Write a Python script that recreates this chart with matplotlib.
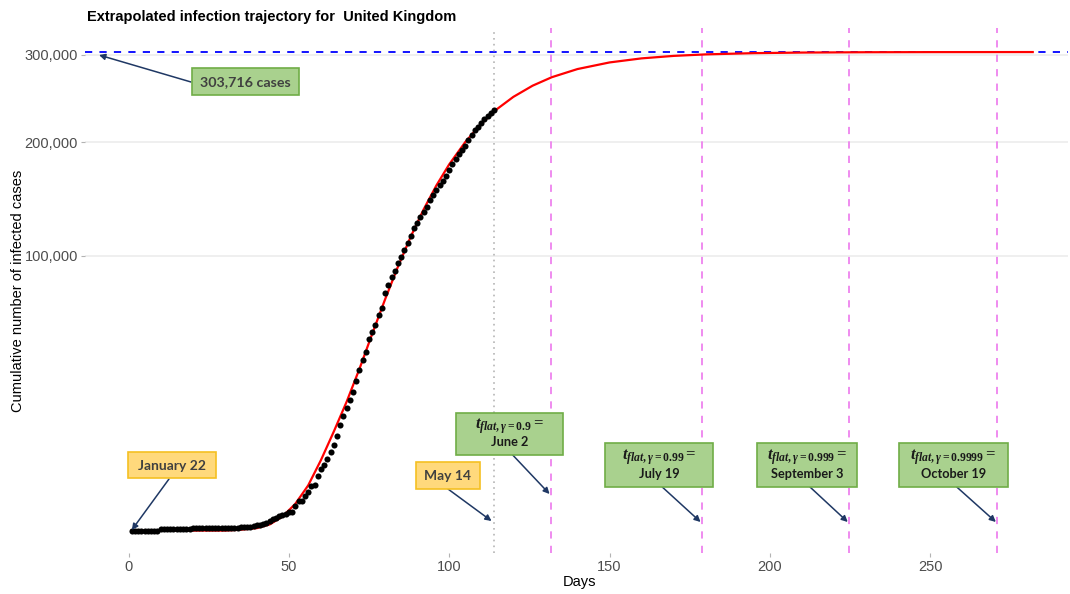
import matplotlib
matplotlib.use("Agg")
import matplotlib.pyplot as plt
import numpy as np
from matplotlib.patches import Rectangle
from matplotlib.ticker import FixedLocator, NullLocator

# observed cumulative cases, day 1 = January 22, last day = May 14
days_obs = list(range(1, 115))
cases_obs = [
    0, 0, 0, 0, 0, 0, 0, 0, 0, 2,
    2, 2, 2, 2, 2, 2, 3, 3, 3, 8, 8, 8, 9, 9, 9, 9, 9, 9, 9, 9, 9, 9, 9, 9,
    13, 13, 15, 20, 23,
    36, 40, 51, 86, 116, 164, 207, 274, 322, 384, 459, 459, 802, 1144, 1145,
    1551, 1960, 2642, 2716, 4014, 5067, 5745, 6726, 8164, 9640, 11812, 14745,
    17312, 19780, 22453, 25481,
    29865, 34173, 38689, 42477, 48436, 52279, 55949, 61474, 65872, 74605,
    79874, 85206, 89570, 94845, 99483, 104145, 109769, 115314, 121172, 125856,
    130172, 134638, 139246, 144640, 149569, 154037, 158348, 162350, 166441,
    172481,
    178685, 183500, 187842, 191832, 196243, 202359, 207977, 212629, 216525,
    220449, 224332, 227741, 230985, 234440,
]

# fitted trajectory
days_fit = [1, 10, 20, 30, 35, 40, 44, 48, 52, 56, 60, 64, 68, 72, 76, 80, 84,
            88, 92, 96, 100, 105, 110, 115, 120, 126, 132, 140, 150, 160, 170,
            180, 195, 210, 230, 250, 282]
cases_fit = [0, 0, 0, 0, 1, 8, 50, 260, 950, 2700, 6600, 13000, 22000,
             34680, 51420, 70920, 92330, 114590, 136700, 158000, 177890,
             200210, 219560, 235890, 249470, 262500, 272620, 282500, 290660,
             295740, 298850, 300750, 302310, 303050, 303470, 303620, 303700]

final_size = 303716
last_day = 114
flat_days = [131.6, 178.7, 224.6, 270.8]
flat_gammas = ["0.9", "0.99", "0.999", "0.9999"]
flat_dates = ["June 2", "July 19", "September 3", "October 19"]

plt.rcParams["font.family"] = ["Liberation Sans", "DejaVu Sans"]
plt.rcParams["mathtext.fontset"] = "custom"
plt.rcParams["mathtext.rm"] = "Liberation Serif:bold"
plt.rcParams["mathtext.it"] = "Liberation Serif:italic:bold"
plt.rcParams["mathtext.bf"] = "Liberation Serif:bold"

W, H = 1070, 594
fig = plt.figure(figsize=(W / 100, H / 100), dpi=100)
ax = fig.add_axes([85 / W, 1 - 553 / H, 983 / W, 525 / H])


def fwd(v):
    return np.sign(v) * np.sqrt(np.abs(v))


def inv(s):
    return np.sign(s) * s ** 2


def px(x, y):
    return (x / W, 1 - y / H)


ax.set_yscale("function", functions=(fwd, inv))
ax.set_xlim(-13.6, 293)
ax.set_ylim(-666, 335000)

ax.yaxis.set_major_locator(FixedLocator([100000, 200000, 300000]))
ax.yaxis.set_minor_locator(NullLocator())
ax.set_yticklabels(["100,000", "200,000", "300,000"])
ax.set_xticks([0, 50, 100, 150, 200, 250])
ax.xaxis.set_minor_locator(NullLocator())
ax.yaxis.grid(True, color="#ebebeb", lw=1.1)
ax.xaxis.grid(False)
ax.set_axisbelow(True)
for s in ax.spines.values():
    s.set_visible(False)
ax.tick_params(colors="#b3b3b3", labelcolor="#4d4d4d", labelsize=10.5,
               length=3, width=0.8, pad=2)

ax.axhline(final_size, color="#0000ff", lw=1.3, ls=(0, (4, 4)), zorder=2)
ax.axvline(last_day, color="#b5b5b5", lw=1.2, ls=(0, (1, 2.5)), zorder=2)
for d in flat_days:
    ax.axvline(d, color="#ee82ee", lw=1.3, ls=(0, (4, 4)), zorder=2)

ax.plot(days_fit, cases_fit, color="red", lw=1.6, zorder=3)
ax.plot(days_obs, cases_obs, "o", color="black", ms=4.4, mec="none", zorder=4)

fig.text(87 / W, 1 - 17 / H, "Extrapolated infection trajectory for  United Kingdom",
         ha="left", va="center", fontsize=10.5, fontweight="bold")
fig.text(18 / W, 1 - 291 / H, "Cumulative number of infected cases",
         rotation=90, ha="center", va="center", fontsize=10.5)
fig.text(580 / W, 1 - 582 / H, "Days", ha="center", va="center", fontsize=10.5)

green_fc, green_ec = "#a9d18e", "#70ad47"
orange_fc, orange_ec = "#ffd97c", "#f5c022"
arrow_col = "#1f3864"


def box(x0, y0, x1, y1, fc, ec):
    fig.patches.append(Rectangle(px(x0, y1), (x1 - x0) / W, (y1 - y0) / H,
                                 transform=fig.transFigure, fc=fc, ec=ec,
                                 lw=1.2, zorder=5))


def arrow(x0, y0, xy, coords="figure fraction"):
    ax.annotate("", xy=xy, xycoords=coords, xytext=px(x0, y0),
                textcoords="figure fraction",
                arrowprops=dict(arrowstyle="-|>", color=arrow_col, lw=1.1,
                                mutation_scale=9, shrinkA=0, shrinkB=0),
                zorder=6)


# total cases label
box(192, 68, 299, 95, green_fc, green_ec)
fig.text(*px(245.5, 82), f"{final_size:,} cases", ha="center", va="center",
         fontsize=10.3, fontweight="bold", family="Lato", color="#404040", zorder=7)
arrow(191, 82, px(99, 55))

# first and last observation
box(128, 452, 216, 478, orange_fc, orange_ec)
fig.text(*px(172, 465.5), "January 22", ha="center", va="center",
         fontsize=10, fontweight="bold", family="Lato", color="#404040", zorder=7)
arrow(169, 479, (days_obs[0], px(0, 530)[1]), ("data", "figure fraction"))

box(416, 462, 480, 489, orange_fc, orange_ec)
fig.text(*px(448, 476), "May 14", ha="center", va="center",
         fontsize=10, fontweight="bold", family="Lato", color="#404040", zorder=7)
arrow(448, 489, (last_day - 0.8, px(0, 521)[1]), ("data", "figure fraction"))

# flattening dates
box_x = [(456, 563), (605, 713), (757, 857), (899, 1008)]
box_y = [(413, 455), (443, 487), (443, 487), (443, 487)]
tip_y = [494, 522, 522, 522]
for (x0, x1), (y0, y1), g, lab, d, ty in zip(box_x, box_y, flat_gammas,
                                              flat_dates, flat_days, tip_y):
    box(x0, y0, x1, y1, green_fc, green_ec)
    cx = (x0 + x1) / 2
    h = y1 - y0
    fig.text(*px(cx, y0 + h * 0.32), r"$t_{flat,\gamma=%s} =$" % g,
             ha="center", va="center", fontsize=12, color="#1a1a1a", zorder=7)
    fig.text(*px(cx, y0 + h * 0.70), lab, ha="center", va="center",
             fontsize=9.2, fontweight="bold", family="Lato", color="#1a1a1a",
             zorder=7)
    arrow(x0 + (x1 - x0) * 0.53, y1, (d - 0.3, px(0, ty)[1]),
          ("data", "figure fraction"))

fig.savefig("out.png", dpi=100)
